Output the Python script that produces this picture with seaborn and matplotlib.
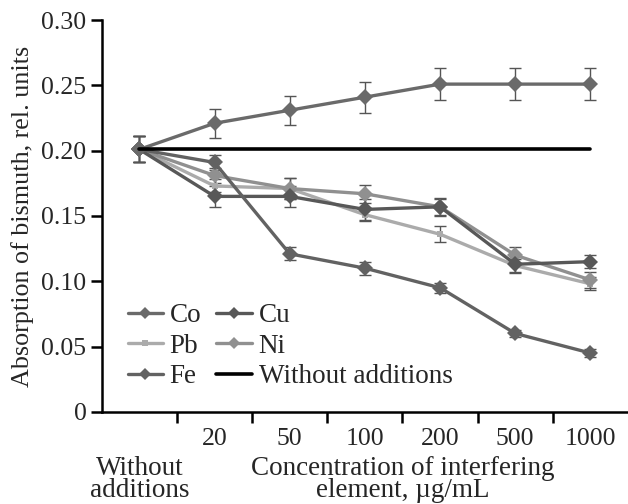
import numpy as np
import pandas as pd
import matplotlib
matplotlib.use("Agg")
import matplotlib.pyplot as plt
import seaborn as sns
from matplotlib.lines import Line2D
from matplotlib import transforms

# ---- data ----
categories = ["Without\nadditions", "20", "50", "100", "200", "500", "1000"]
co = [0.201, 0.221, 0.231, 0.241, 0.251, 0.251, 0.251]
cu = [0.201, 0.165, 0.165, 0.155, 0.157, 0.113, 0.115]
pb = [0.201, 0.173, 0.171, 0.151, 0.136, 0.112, 0.098]
ni = [0.201, 0.181, 0.171, 0.167, 0.157, 0.120, 0.101]
fe = [0.201, 0.191, 0.121, 0.110, 0.095, 0.060, 0.045]
co_err = [0.010, 0.011, 0.011, 0.012, 0.012, 0.012, 0.012]
cu_err = [0.010, 0.008, 0.008, 0.008, 0.006, 0.007, 0.005]
pb_err = [0.010, 0.005, 0.008, 0.005, 0.006, 0.005, 0.005]
ni_err = [0.010, 0.006, 0.008, 0.007, 0.007, 0.006, 0.006]
fe_err = [0.010, 0.006, 0.005, 0.005, 0.004, 0.003, 0.003]
baseline = 0.201
y_ticks = [0, 0.05, 0.10, 0.15, 0.20, 0.25, 0.30]
y_ticklabels = ["0", "0.05", "0.10", "0.15", "0.20", "0.25", "0.30"]

series = {"Co": (co, co_err), "Cu": (cu, cu_err), "Pb": (pb, pb_err),
          "Ni": (ni, ni_err), "Fe": (fe, fe_err)}
colors = {"Co": "#6a6a6a", "Cu": "#585858", "Pb": "#ababab", "Ni": "#909090", "Fe": "#626262"}
markers = {"Co": "D", "Cu": "D", "Pb": "s", "Ni": "D", "Fe": "D"}
msizes = {"Co": 8, "Cu": 8, "Pb": 5, "Ni": 8, "Fe": 8}

rows = []
for name, (vals, errs) in series.items():
    for i, (v, e) in enumerate(zip(vals, errs)):
        rows.append({"element": name, "pos": i, "value": v, "err": e})
df = pd.DataFrame(rows)

sns.set_style("ticks")
plt.rcParams["font.family"] = ["Liberation Serif", "DejaVu Serif"]
FS = 18.5
LFS = 19.5
plt.rcParams["font.size"] = FS

fig = plt.figure(figsize=(6.28, 5.04), dpi=100)
ax = fig.add_axes([0.162, 0.183, 0.838, 0.777])

draw_order = ["Pb", "Ni", "Cu", "Fe", "Co"]
for name in draw_order:
    sub = df[df["element"] == name]
    ax.errorbar(sub["pos"], sub["value"], yerr=sub["err"], fmt="none",
                ecolor="#555555", elinewidth=1.0, capsize=4, capthick=1.0, zorder=2)
    sns.lineplot(data=sub, x="pos", y="value", ax=ax, color=colors[name],
                 marker=markers[name], markersize=msizes[name], markeredgewidth=0,
                 linewidth=2.4, legend=False, zorder=3)

ax.plot([0, len(categories) - 1], [baseline, baseline], color="black", lw=2.6, zorder=4)

ax.set_xlim(-0.5, len(categories) - 0.5)
ax.set_ylim(0, 0.30)
ax.set_yticks(y_ticks)
ax.set_yticklabels(y_ticklabels)
ax.set_xticks(range(1, len(categories)))
ax.set_xticklabels(categories[1:])
ax.set_xticks(np.arange(0.5, len(categories) - 1), minor=True)
ax.tick_params(axis="x", which="major", length=0, pad=12, labelsize=FS)
ax.tick_params(axis="x", which="minor", length=8, width=1.8, direction="out", color="black")
ax.tick_params(axis="y", length=8, width=1.8, direction="out", color="black", labelsize=FS,
               pad=3)
ax.set_xlabel("")
ax.set_ylabel("Absorption of bismuth, rel. units", fontsize=18.8, labelpad=5)
for s in ["top", "right"]:
    ax.spines[s].set_visible(False)
for s in ["left", "bottom"]:
    ax.spines[s].set_linewidth(1.8)
    ax.spines[s].set_color("black")

trans = transforms.blended_transform_factory(ax.transData, ax.transAxes)
ax.text(0, -0.113, categories[0], transform=trans, ha="center", va="top",
        fontsize=LFS, linespacing=0.82)
ax.text(3.5, -0.113, "Concentration of interfering\nelement, \u00b5g/mL", transform=trans,
        ha="center", va="top", fontsize=LFS, linespacing=0.82)

legend_order = ["Co", "Pb", "Fe", "Cu", "Ni"]
handles = [Line2D([], [], color=colors[n], marker=markers[n], markersize=msizes[n] * 0.75,
                  markeredgewidth=0, lw=2.4, label=n) for n in legend_order]
handles.append(Line2D([], [], color="black", lw=2.6, label="Without additions"))
ax.legend(handles=handles, ncol=2, loc="lower left", bbox_to_anchor=(0.049, 0.058),
          frameon=False, fontsize=LFS, handlelength=1.3, handletextpad=0.26,
          columnspacing=0.55, labelspacing=0.2, borderaxespad=0, borderpad=0)

fig.savefig("out.png", dpi=100)
